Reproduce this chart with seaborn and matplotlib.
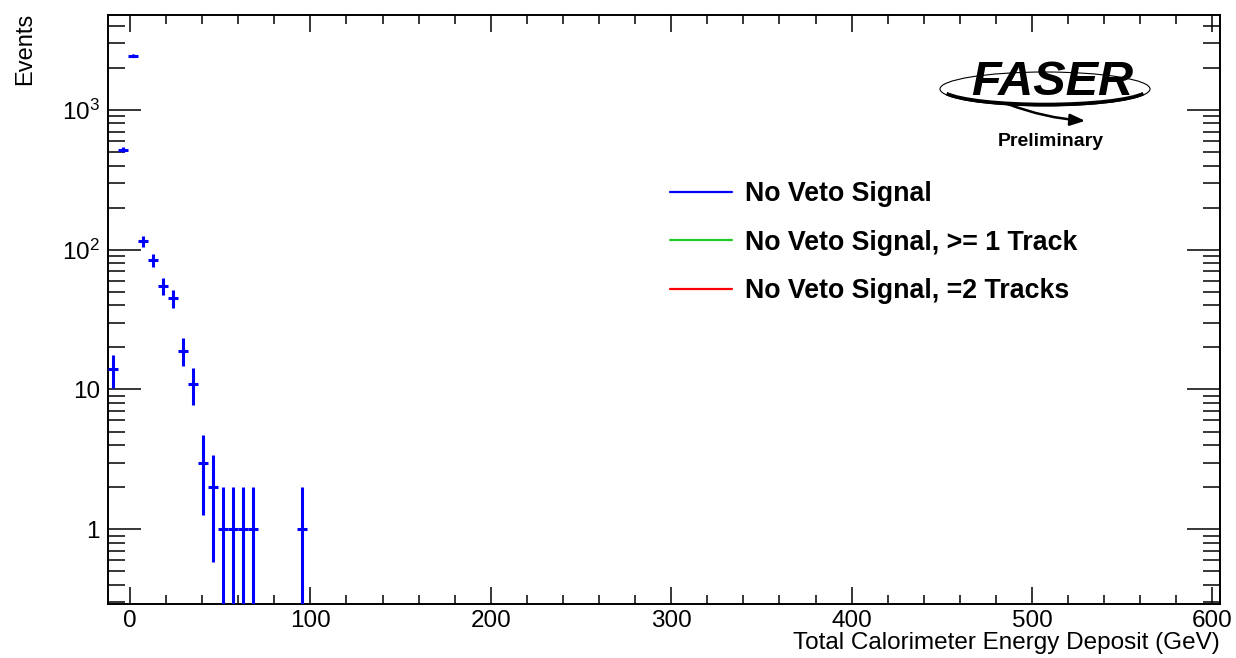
import numpy as np
import pandas as pd
import matplotlib
matplotlib.use("Agg")
import matplotlib.pyplot as plt
import seaborn as sns
from matplotlib.ticker import FixedLocator, FixedFormatter, MultipleLocator, NullFormatter
from matplotlib.lines import Line2D
from matplotlib.patches import Ellipse, Arc, FancyArrowPatch

# ---- data ----
bin_centers = [-9.6, -3.8, 1.8, 7.1, 12.7, 18.2, 23.7, 29.3, 34.8, 40.4, 45.9, 51.4, 57.0, 62.5, 68.0, 95.6]
counts = [14, 520, 2450, 115, 84, 55, 45, 19, 11, 3, 2, 1, 1, 1, 1, 1]
bin_width = 5.52
legend_labels = ["No Veto Signal", "No Veto Signal, >= 1 Track", "No Veto Signal, =2 Tracks"]
legend_colors = ["#0000ff", "#22cc22", "#ff0000"]
x_label = "Total Calorimeter Energy Deposit (GeV)"
y_label = "Events"
y_tick_values = [1, 10, 100, 1000]
y_tick_labels = ["1", "10", "$10^{2}$", "$10^{3}$"]

df = pd.DataFrame({"energy": bin_centers, "events": counts})
df["err_hi"] = np.sqrt(df["events"])
df["err_lo"] = np.minimum(np.sqrt(df["events"]), df["events"] * 0.99999)

sns.set_theme(style="ticks")
plt.rcParams["font.family"] = ["Liberation Sans", "DejaVu Sans"]
plt.rcParams["mathtext.fontset"] = "custom"
plt.rcParams["mathtext.rm"] = "Liberation Sans"
plt.rcParams["mathtext.it"] = "Liberation Sans:italic"
plt.rcParams["mathtext.bf"] = "Liberation Sans:bold"
for k in ["text.color", "axes.labelcolor", "xtick.color", "ytick.color", "axes.edgecolor"]:
    plt.rcParams[k] = "black"

W, H = 1236, 658
fig = plt.figure(figsize=(W / 100, H / 100), dpi=100)
fig.patch.set_facecolor("white")
ax = fig.add_axes([108.3 / W, 1 - 604 / H, (1220 - 108.3) / W, (604 - 14.7) / H])
ax.set_facecolor("white")

def fx(px):
    return px / W

def fy(py):
    return 1 - py / H

ax.errorbar(df["energy"], df["events"], xerr=bin_width / 2,
            yerr=[df["err_lo"], df["err_hi"]], fmt="none",
            ecolor="#0000ff", elinewidth=2.2, capsize=0, zorder=3)
sns.scatterplot(data=df, x="energy", y="events", ax=ax, color="#0000ff",
                s=6, linewidth=0, zorder=4, legend=False)

ax.set_yscale("log")
ax.set_xlim(-12.0, 604.2)
ax.set_ylim(0.292, 4800)

ax.xaxis.set_major_locator(MultipleLocator(100))
ax.xaxis.set_minor_locator(MultipleLocator(20))
ax.yaxis.set_major_locator(FixedLocator(y_tick_values))
ax.yaxis.set_major_formatter(FixedFormatter(y_tick_labels))
minors = [m * 10 ** d for d in range(-1, 4) for m in range(2, 10)]
ax.yaxis.set_minor_locator(FixedLocator(minors))
ax.yaxis.set_minor_formatter(NullFormatter())

ax.xaxis.set_tick_params(which="major", direction="in", length=12.5, width=1.1,
                         top=True, bottom=True, labelsize=17.5, pad=4, colors="black")
ax.xaxis.set_tick_params(which="minor", direction="in", length=6.3, width=1.1,
                         top=True, bottom=True)
ax.yaxis.set_tick_params(which="major", direction="in", length=24, width=1.1,
                         left=True, right=True, labelsize=17.5, pad=6, colors="black")
ax.yaxis.set_tick_params(which="minor", direction="in", length=12, width=1.1,
                         left=True, right=True)
for s in ax.spines.values():
    s.set_linewidth(1.4)
    s.set_color("black")
    s.set_visible(True)

ax.set_xlabel(x_label, fontsize=17.5, loc="right", labelpad=0, color="black")
ax.set_ylabel("")
fig.text(fx(25), fy(12.5), y_label, rotation=90, ha="center", va="top",
         fontsize=17, color="black")

handles = [Line2D([0], [0], color=c, lw=1.6) for c in legend_colors]
leg = fig.legend(handles, legend_labels, loc="upper left",
                 bbox_to_anchor=(fx(670), fy(181)), bbox_transform=fig.transFigure,
                 frameon=False, borderpad=0, borderaxespad=0,
                 handlelength=2.3, handletextpad=0.5, labelspacing=0.84,
                 prop={"weight": "bold", "size": 19.3})
for t in leg.get_texts():
    t.set_color("black")

# ---- FASER logo ----
fig.text(fx(1052), fy(95), "FASER", ha="center", va="baseline",
         fontsize=35, fontweight="bold", style="italic", color="black")
ell = Ellipse((fx(1045), fy(89)), fx(210), 34 / H, transform=fig.transFigure,
              fill=False, lw=0.8, edgecolor="black")
fig.add_artist(ell)
arc = Arc((fx(1045), fy(89)), fx(206), 31 / H, theta1=185, theta2=355,
          transform=fig.transFigure, lw=2.6, edgecolor="black")
fig.add_artist(arc)
arrow = FancyArrowPatch((fx(1005), fy(103)), (fx(1088), fy(121)),
                        transform=fig.transFigure, arrowstyle="-|>,head_length=9,head_width=3.5",
                        connectionstyle="arc3,rad=0.08", lw=1.8, color="black",
                        mutation_scale=1)
fig.add_artist(arrow)
fig.text(fx(1051), fy(141), "Preliminary", ha="center", va="center",
         fontsize=14, fontweight="bold", color="black")

fig.savefig("out.png", dpi=100, facecolor="white")
